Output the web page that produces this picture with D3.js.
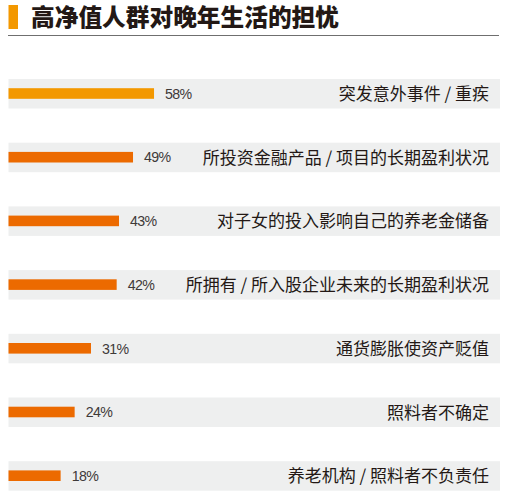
<!DOCTYPE html>
<html>
<head>
<meta charset="utf-8">
<script src="https://cdn.jsdelivr.net/npm/d3@7"></script>
<style>
  html, body { margin: 0; padding: 0; background: #fff; }
  svg { display: block; }
</style>
</head>
<body>
<div id="chart"></div>
<script>
(function () {
  'use strict';

  var title = '高净值人群对晚年生活的担忧';
  var categories = [
    '突发意外事件 / 重疾',
    '所投资金融产品 / 项目的长期盈利状况',
    '对子女的投入影响自己的养老金储备',
    '所拥有 / 所入股企业未来的长期盈利状况',
    '通货膨胀使资产贬值',
    '照料者不确定',
    '养老机构 / 照料者不负责任'
  ];
  var values = [58, 49, 43, 42, 31, 24, 18];

  var width = 508, height = 500;
  var svg = d3.select('#chart').append('svg')
    .attr('width', width)
    .attr('height', height);

  // title block
  svg.append('rect')
    .attr('x', 8.5).attr('y', 5)
    .attr('width', 9.5).attr('height', 24)
    .attr('fill', '#f39800');
  svg.append('text')
    .attr('x', 31).attr('y', 25.5)
    .attr('font-family', '"Noto Sans CJK SC", sans-serif')
    .attr('font-weight', 900)
    .attr('font-size', 23.7)
    .attr('fill', '#231815')
    .text(title);
  svg.append('line')
    .attr('x1', 8).attr('x2', 499)
    .attr('y1', 35.5).attr('y2', 35.5)
    .attr('stroke', '#6f6f6f')
    .attr('stroke-width', 1);

  var bandLeft = 8.5, bandRight = 500;
  var y = d3.scaleBand()
    .domain(categories)
    .range([79, 79 + 63.7 * categories.length])
    .paddingInner(0)
    .paddingOuter(0);
  var bandH = 29.5;
  var x = d3.scaleLinear().domain([0, 100]).range([18.6, 252.1]);

  var rows = svg.selectAll('g.row')
    .data(categories.map(function (c, i) { return { name: c, value: values[i], idx: i }; }))
    .enter().append('g')
    .attr('class', 'row')
    .attr('transform', function (d) { return 'translate(0,' + y(d.name) + ')'; });

  rows.append('rect')
    .attr('x', bandLeft)
    .attr('y', 0)
    .attr('width', bandRight - bandLeft)
    .attr('height', bandH)
    .attr('fill', '#eeefef');

  rows.append('rect')
    .attr('x', bandLeft)
    .attr('y', 9.2)
    .attr('width', function (d) { return x(d.value) - bandLeft; })
    .attr('height', 10.6)
    .attr('fill', function (d) { return d.idx === 0 ? '#f39800' : '#ec6a00'; });

  rows.append('text')
    .attr('x', function (d) { return x(d.value) + 11; })
    .attr('y', 19.8)
    .attr('font-family', '"Liberation Sans", Arial, sans-serif')
    .attr('font-size', 14.2)
    .attr('letter-spacing', -0.6)
    .attr('fill', '#3e3a39')
    .text(function (d) { return d.value + '%'; });

  rows.append('text')
    .attr('x', 489)
    .attr('y', 21)
    .attr('text-anchor', 'end')
    .attr('font-family', '"Noto Sans CJK SC", sans-serif')
    .attr('font-size', 17)
    .attr('fill', '#231815')
    .text(function (d) { return d.name; });
})();
</script>
</body>
</html>
